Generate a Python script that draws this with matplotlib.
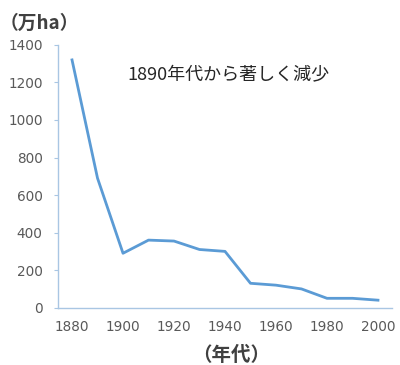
import matplotlib.pyplot as plt

# Font with Japanese glyphs first, DejaVu as fallback
plt.rcParams['font.family'] = ['Noto Sans CJK JP', 'DejaVu Sans']

# Decade and area (10,000 ha)
years = [1880, 1890, 1900, 1910, 1920, 1930, 1940, 1950, 1960, 1970, 1980, 1990, 2000]
area = [1320, 690, 290, 360, 355, 310, 300, 130, 120, 100, 50, 50, 40]

yticks = [0, 200, 400, 600, 800, 1000, 1200, 1400]
xticks = [1880, 1900, 1920, 1940, 1960, 1980, 2000]

fig = plt.figure(figsize=(4.0, 3.65), dpi=100)
ax = fig.add_axes([0.145, 0.157, 0.835, 0.72])

ax.plot(years, area, color='#5b9bd5', linewidth=2)

ax.set_xlim(1874.5, 2005.5)
ax.set_ylim(0, 1400)
ax.set_xticks(xticks)
ax.set_yticks(yticks)

for side in ['top', 'right']:
    ax.spines[side].set_visible(False)
for side in ['left', 'bottom']:
    ax.spines[side].set_color('#a9c6e3')
    ax.spines[side].set_linewidth(1.0)

ax.tick_params(axis='y', length=3, color='#a9c6e3', labelsize=9.8,
               labelcolor='#595959', pad=8)
ax.tick_params(axis='x', length=0, labelsize=9.8, labelcolor='#595959', pad=9)
for lbl in ax.get_xticklabels() + ax.get_yticklabels():
    lbl.set_family('DejaVu Sans')

fig.text(0.0, 0.937, '（万ha）', fontsize=13.5, fontweight='bold',
         color='#404040', va='center', ha='left')
fig.text(0.318, 0.795, '1890年代から著しく減少', fontsize=13,
         color='#262626', va='center', ha='left')
fig.text(0.578, 0.027, '（年代）', fontsize=14, fontweight='bold',
         color='#404040', va='center', ha='center')

fig.savefig('out.png', dpi=100)
